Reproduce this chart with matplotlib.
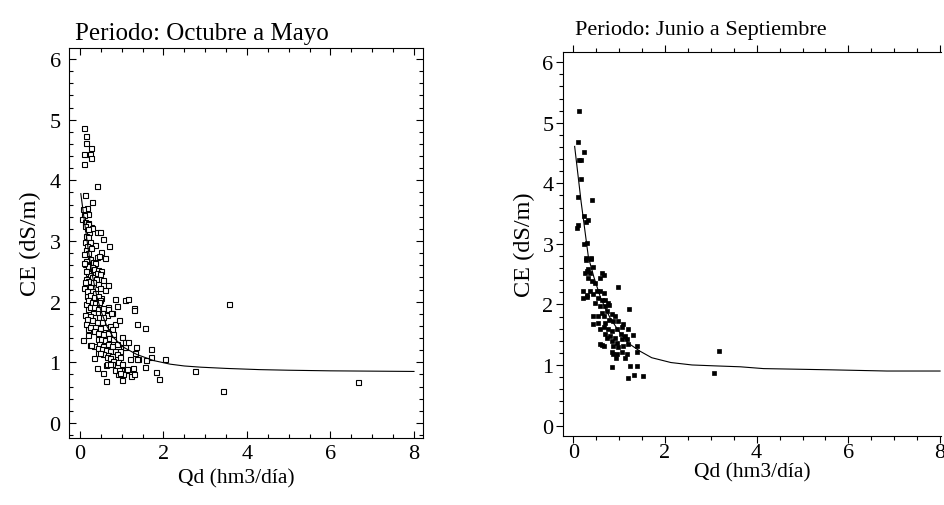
import matplotlib
matplotlib.use("Agg")
import matplotlib.pyplot as plt
from matplotlib.ticker import MultipleLocator

plt.rcParams["font.family"] = ["Liberation Serif", "DejaVu Serif"]

# ------------------------------------------------------------------ #
# Periodo: Octubre a Mayo  (Qd, CE)
# ------------------------------------------------------------------ #
oct_may_points = [
    (0.10, 4.87), (0.14, 4.73), (0.14, 4.61), (0.26, 4.53), (0.10, 4.44), (0.24, 4.44),
    (0.26, 4.37), (0.10, 4.27), (0.41, 3.90), (0.13, 3.76), (0.29, 3.64), (0.16, 3.54),
    (0.08, 3.53), (0.20, 3.45), (0.10, 3.43), (0.06, 3.37), (0.12, 3.31), (0.19, 3.29),
    (0.16, 3.21), (0.26, 3.23), (0.22, 3.14), (0.40, 3.14), (0.47, 3.15), (0.56, 3.04),
    (0.69, 2.92), (0.32, 2.93), (0.20, 3.28), (0.12, 3.24), (0.28, 3.22), (0.18, 3.20),
    (0.14, 3.09), (0.20, 3.06), (0.12, 2.99), (0.24, 2.98), (0.36, 2.93), (0.16, 2.92),
    (0.26, 2.88), (0.14, 2.85), (0.50, 2.82), (0.20, 2.81), (0.10, 2.78), (0.40, 2.74),
    (0.46, 2.76), (0.60, 2.72), (0.24, 2.70), (0.14, 2.67), (0.32, 2.66), (0.36, 2.64),
    (0.12, 2.62), (0.20, 2.58), (0.28, 2.57), (0.34, 2.54), (0.44, 2.52), (0.50, 2.51),
    (0.18, 2.48), (0.40, 2.48), (0.24, 2.44), (0.48, 2.45), (0.14, 2.38), (0.28, 2.40),
    (0.38, 2.37), (0.56, 2.36), (0.20, 2.34), (0.32, 2.32), (0.44, 2.29), (0.66, 2.27),
    (0.24, 2.24), (0.48, 2.23), (0.60, 2.20), (0.28, 2.18), (0.36, 2.15), (0.16, 2.10),
    (0.50, 2.06), (0.26, 2.07), (0.10, 2.63), (0.14, 2.51), (0.12, 2.32), (0.10, 2.23),
    (0.16, 2.18), (0.14, 1.96), (0.20, 1.88), (0.12, 1.78), (0.18, 1.55), (0.20, 1.45),
    (0.24, 2.11), (0.34, 2.08), (0.44, 2.10), (0.48, 2.02), (0.18, 2.02), (0.28, 1.99),
    (0.36, 1.97), (0.46, 2.00), (0.24, 1.92), (0.34, 1.91), (0.44, 1.88), (0.56, 1.89),
    (0.68, 1.91), (0.32, 1.82), (0.42, 1.82), (0.52, 1.81), (0.64, 1.78), (0.76, 1.81),
    (0.24, 1.77), (0.36, 1.74), (0.46, 1.74), (0.56, 1.75), (0.16, 1.71), (0.28, 1.69),
    (0.40, 1.66), (0.52, 1.66), (0.14, 1.63), (0.72, 1.60), (0.84, 1.63), (0.24, 1.58),
    (0.36, 1.58), (0.48, 1.56), (0.60, 1.58), (0.76, 1.55), (0.34, 1.51), (0.44, 1.49),
    (0.56, 1.47), (0.68, 1.49), (0.80, 1.47), (0.42, 1.39), (0.50, 1.38), (0.60, 1.37),
    (0.70, 1.40), (0.80, 1.38), (0.24, 1.29), (0.34, 1.27), (0.46, 1.30), (0.56, 1.27),
    (0.66, 1.30), (0.76, 1.27), (0.88, 1.30), (1.02, 1.25), (1.08, 1.25), (0.42, 1.24),
    (0.52, 1.22), (0.62, 1.20), (0.72, 1.19), (0.84, 1.18), (0.96, 1.19), (0.44, 1.16),
    (0.56, 1.14), (0.68, 1.12), (0.76, 1.11), (0.88, 1.14), (0.64, 1.08), (0.72, 1.07),
    (0.96, 1.08), (1.40, 1.05), (0.80, 1.03), (0.92, 1.00), (1.00, 0.97), (0.62, 0.96),
    (0.76, 0.97), (0.98, 0.87), (1.10, 0.87), (1.20, 0.89), (0.92, 0.81), (1.04, 0.80),
    (1.22, 0.81), (0.84, 2.05), (1.08, 2.02), (1.16, 2.05), (0.88, 1.93), (1.29, 1.89),
    (1.29, 1.86), (0.68, 1.88), (0.74, 1.81), (0.94, 1.70), (1.37, 1.64), (1.56, 1.57),
    (3.58, 1.96), (0.08, 1.36), (1.00, 1.41), (1.09, 1.34), (1.16, 1.33), (1.33, 1.25),
    (1.70, 1.22), (1.71, 1.09), (2.04, 1.05), (1.58, 1.04), (1.37, 1.05), (1.20, 1.05),
    (1.32, 1.15), (1.55, 0.93), (1.82, 0.84), (1.89, 0.72), (2.75, 0.86), (3.42, 0.52),
    (0.40, 0.91), (0.56, 0.82), (0.63, 0.69), (0.84, 0.87), (0.93, 0.87), (1.01, 0.71),
    (1.21, 0.77), (1.29, 0.81), (1.26, 0.90), (1.12, 0.89), (0.96, 0.82), (0.64, 0.97),
    (0.72, 0.97), (0.34, 1.07), (0.48, 1.16), (0.26, 1.28), (6.67, 0.68),
]
oct_may_fit_qd = [0.02, 0.1, 0.2, 0.3, 0.4, 0.5, 0.64, 0.8, 1.04, 1.36, 1.76, 2.16,
                  2.5, 2.9, 3.5, 4.3, 5.0, 6.0, 7.0, 8.0]
oct_may_fit_ce = [3.78, 3.36, 2.85, 2.42, 2.10, 1.85, 1.60, 1.41, 1.25, 1.13, 1.03, 0.97,
                  0.94, 0.92, 0.90, 0.88, 0.87, 0.86, 0.855, 0.85]

# ------------------------------------------------------------------ #
# Periodo: Junio a Septiembre
# ------------------------------------------------------------------ #
jun_sep_points = [
    (0.12, 5.20), (0.10, 4.69), (0.23, 4.51), (0.13, 4.38), (0.17, 4.39), (0.16, 4.08),
    (0.10, 3.77), (0.41, 3.73), (0.24, 3.46), (0.33, 3.40), (0.28, 3.36), (0.11, 3.32),
    (0.08, 3.26), (0.24, 3.00), (0.31, 3.01), (0.28, 2.77), (0.38, 2.77), (0.27, 2.74),
    (0.22, 2.22), (0.22, 2.10), (0.29, 2.13), (0.33, 2.58), (0.26, 2.52), (0.39, 2.75),
    (0.44, 2.61), (0.29, 2.55), (0.36, 2.52), (0.33, 2.44), (0.62, 2.52), (0.66, 2.48),
    (0.58, 2.44), (0.40, 2.39), (0.47, 2.36), (0.36, 2.22), (0.51, 2.22), (0.58, 2.22),
    (0.66, 2.19), (0.29, 2.15), (0.44, 2.17), (0.55, 2.11), (0.62, 2.08), (0.47, 2.03),
    (0.69, 2.08), (0.76, 2.03), (0.58, 1.97), (0.69, 1.97), (0.78, 1.99), (0.97, 2.28),
    (0.44, 1.81), (0.55, 1.81), (0.66, 1.81), (0.62, 1.86), (0.73, 1.89), (0.84, 1.84),
    (0.91, 1.81), (0.44, 1.67), (0.55, 1.70), (0.69, 1.70), (0.78, 1.75), (0.87, 1.73),
    (0.98, 1.73), (1.09, 1.67), (1.22, 1.92), (0.58, 1.59), (0.68, 1.62), (0.76, 1.59),
    (0.85, 1.56), (0.95, 1.59), (1.07, 1.63), (1.19, 1.59), (0.69, 1.51), (0.80, 1.48),
    (0.91, 1.45), (1.04, 1.51), (1.13, 1.48), (1.31, 1.49), (0.84, 1.40), (0.95, 1.37),
    (1.06, 1.43), (1.17, 1.43), (0.62, 1.33), (0.87, 1.31), (0.98, 1.29), (1.09, 1.31),
    (1.20, 1.34), (1.38, 1.31), (0.84, 1.22), (0.95, 1.18), (1.06, 1.21), (1.17, 1.18),
    (1.38, 1.22), (1.13, 1.11), (0.84, 0.96), (1.24, 0.99), (1.38, 0.99), (1.20, 0.78),
    (1.33, 0.83), (1.53, 0.82), (0.58, 1.34), (0.66, 1.31), (0.73, 1.45), (0.86, 1.18),
    (0.93, 1.12), (3.06, 0.86), (3.17, 1.23),
]
jun_sep_fit_qd = [0.03, 0.17, 0.33, 0.45, 0.6, 0.8, 1.0, 1.2, 1.45, 1.71, 2.13, 2.59,
                  3.09, 3.64, 4.15, 5.6, 6.84, 8.0]
jun_sep_fit_ce = [4.61, 3.70, 2.78, 2.45, 2.10, 1.78, 1.55, 1.36, 1.23, 1.12, 1.04, 1.00,
                  0.985, 0.97, 0.94, 0.92, 0.90, 0.90]

title_left = "Periodo: Octubre a Mayo"
title_right = "Periodo: Junio a Septiembre"
x_label = "Qd (hm3/día)"
y_label = "CE (dS/m)"

fig = plt.figure(figsize=(9.44, 5.06), dpi=100)

# left panel: hollow squares, ticks inside on all four sides
ax1 = fig.add_axes([0.0731, 0.1324, 0.375, 0.7708])
qd, ce = zip(*oct_may_points)
ax1.plot(qd, ce, linestyle="none", marker="s", ms=3.6, mfc="white",
         mec="black", mew=0.8)
ax1.plot(oct_may_fit_qd, oct_may_fit_ce, color="black", lw=0.8)
ax1.set_xlim(-0.263, 8.216)
ax1.set_ylim(-0.247, 6.181)
ax1.tick_params(which="both", direction="in", top=True, right=True,
                width=0.8, labelsize=16)
ax1.tick_params(which="major", length=5, pad=6)
ax1.tick_params(which="minor", length=3)
ax1.tick_params(axis="x", which="major", pad=4)
ax1.set_xlabel(x_label, fontsize=15.5)
ax1.xaxis.set_label_coords(0.472, -0.078)
ax1.set_ylabel(y_label, fontsize=17.5, labelpad=6)

# right panel: filled squares, ticks outside
ax2 = fig.add_axes([0.5967, 0.1364, 0.4001, 0.7595])
qd, ce = zip(*jun_sep_points)
ax2.plot(qd, ce, linestyle="none", marker="s", ms=3.2, mfc="black",
         mec="black", mew=0.5)
ax2.plot(jun_sep_fit_qd, jun_sep_fit_ce, color="black", lw=0.8)
ax2.set_xlim(-0.218, 8.02)
ax2.set_ylim(-0.173, 6.175)
ax2.spines["right"].set_visible(False)
ax2.tick_params(which="both", direction="out", top=True, right=False,
                width=0.8, labelsize=16)
ax2.tick_params(which="major", length=5, pad=2)
ax2.tick_params(which="minor", length=3)
ax2.tick_params(axis="x", which="major", pad=0)
ax2.set_xlabel(x_label, fontsize=15.5, labelpad=0)
ax2.set_ylabel(y_label, fontsize=17.5, labelpad=5)

for ax in (ax1, ax2):
    ax.xaxis.set_major_locator(MultipleLocator(2))
    ax.xaxis.set_minor_locator(MultipleLocator(0.5))
    ax.yaxis.set_major_locator(MultipleLocator(1))
    ax.yaxis.set_minor_locator(MultipleLocator(0.2))
    for s in ax.spines.values():
        s.set_linewidth(0.8)

fig.text(75 / 944, 1 - 40 / 506, title_left, fontsize=18, va="baseline")
fig.text(575 / 944, 1 - 35 / 506, title_right, fontsize=16, va="baseline")

fig.savefig("out.png", dpi=100)
